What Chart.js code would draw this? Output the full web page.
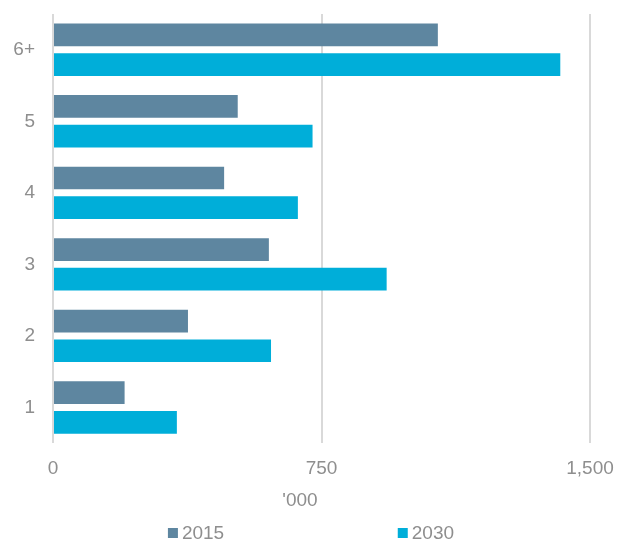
<!DOCTYPE html>
<html>
<head>
<meta charset="utf-8">
<script src="https://cdn.jsdelivr.net/npm/chart.js@4/dist/chart.umd.min.js"></script>
<style>
  html, body { margin: 0; padding: 0; background: #ffffff; }
  #wrap { width: 618px; height: 544px; position: relative; }
</style>
</head>
<body>
<div id="wrap"><canvas id="c" width="618" height="544"></canvas></div>
<script>
const categories = ['6+', '5', '4', '3', '2', '1'];
const seriesNames = ['2015', '2030'];
const values2015 = [1075, 516, 478, 603, 377, 200];
const values2030 = [1417, 725, 684, 932, 609, 346];
const xTicks = [0, 750, 1500];
const xTitle = "'000";

const FONT = '"Liberation Sans", Arial, sans-serif';
const TEXT = '#8e8e8e';
const colors = ['#5e86a0', '#00aed9'];

// axis title and legend, placed like the original (off-centre)
const titleAndLegend = {
  id: 'titleAndLegend',
  afterDraw(chart, args, opts) {
    const { ctx, chartArea } = chart;
    const w = chartArea.right - chartArea.left;
    ctx.save();
    ctx.font = '19px ' + FONT;
    ctx.fillStyle = TEXT;
    ctx.textBaseline = 'middle';
    ctx.textAlign = 'center';
    ctx.fillText(opts.title, chartArea.left + opts.titleX * w, opts.titleY);
    ctx.textAlign = 'left';
    chart.data.datasets.forEach((ds, i) => {
      const x = chartArea.left + opts.starts[i] * w;
      const y = opts.legendY;
      ctx.fillStyle = ds.backgroundColor;
      ctx.fillRect(x, y - 5, 10, 10);
      ctx.fillStyle = TEXT;
      ctx.fillText(ds.label, x + 14, y + 1);
    });
    ctx.restore();
  }
};

new Chart(document.getElementById('c'), {
  type: 'bar',
  data: {
    labels: categories,
    datasets: [
      { label: seriesNames[0], data: values2015, backgroundColor: colors[0] },
      { label: seriesNames[1], data: values2030, backgroundColor: colors[1] }
    ]
  },
  options: {
    indexAxis: 'y',
    responsive: false,
    animation: false,
    devicePixelRatio: 1,
    layout: { padding: { top: 14, right: 28, bottom: 50, left: 0 } },
    datasets: { bar: { categoryPercentage: 0.83, barPercentage: 0.765 } },
    plugins: {
      legend: { display: false },
      tooltip: { enabled: false },
      titleAndLegend: { title: xTitle, titleX: 0.46, titleY: 501, starts: [0.214, 0.642], legendY: 533 }
    },
    scales: {
      x: {
        min: 0, max: 1500,
        afterBuildTicks(scale) { scale.ticks = xTicks.map(v => ({ value: v })); },
        afterFit(scale) { scale.paddingLeft = 0; scale.paddingRight = 0; },
        grid: { color: '#d9d9d9', lineWidth: 2, drawTicks: false },
        border: { display: false },
        ticks: {
          padding: 14,
          color: TEXT,
          font: { family: FONT, size: 19 },
          callback: v => v.toLocaleString('en-US')
        },
        title: { display: false }
      },
      y: {
        grid: { display: false, drawTicks: false },
        border: { display: false },
        afterFit(scale) { scale.width = 53; scale.paddingTop = 0; scale.paddingBottom = 0; },
        ticks: {
          padding: 18,
          color: TEXT,
          font: { family: FONT, size: 19 }
        }
      }
    }
  },
  plugins: [titleAndLegend]
});
</script>
</body>
</html>
